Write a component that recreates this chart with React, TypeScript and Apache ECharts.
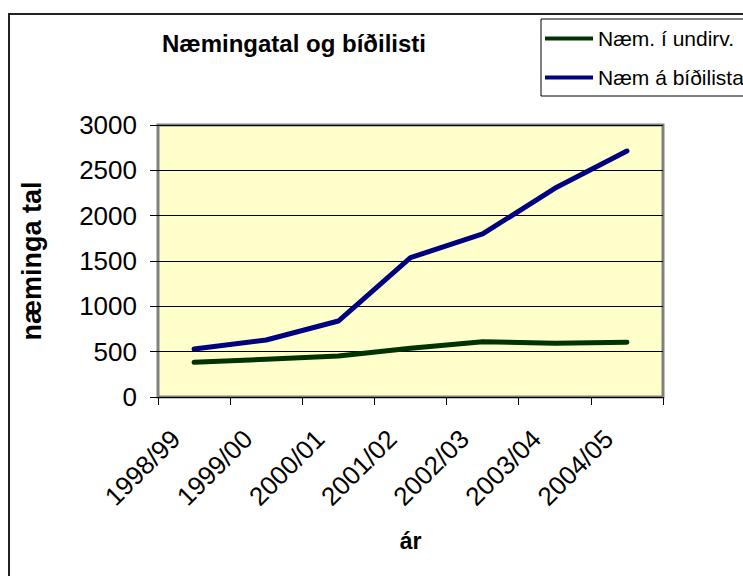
import React, { useEffect, useRef } from "react";
import * as echarts from "echarts";

const categories = ["1998/99", "1999/00", "2000/01", "2001/02", "2002/03", "2003/04", "2004/05"];
const enrolled = [383, 416, 452, 537, 610, 592, 603];
const waitlist = [529, 629, 838, 1537, 1798, 2302, 2713];
const yTicks = { min: 0, max: 3000, interval: 500 };

const FONT = "'Liberation Sans', Arial, sans-serif";

export default function App() {
  const ref = useRef<HTMLDivElement>(null);
  useEffect(() => {
    document.body.style.margin = "0";
    const chart = echarts.init(ref.current!, null, { renderer: "svg" });
    chart.setOption({
      animation: false,
      backgroundColor: "#ffffff",
      textStyle: { fontFamily: FONT, color: "#000" },
      title: {
        text: "Næmingatal og bíðilisti",
        left: 162,
        top: 31,
        padding: 0,
        textStyle: { fontFamily: FONT, fontSize: 24, fontWeight: "bold", color: "#000" },
      },
      legend: {
        orient: "vertical",
        left: 541,
        top: 19,
        padding: [9, 40, 8, 4],
        borderColor: "#000",
        borderWidth: 1,
        itemWidth: 48,
        itemHeight: 4,
        itemGap: 18,
        icon: "rect",
        textStyle: { fontFamily: FONT, fontSize: 21, color: "#000" },
        data: ["Næm. í undirv.", "Næm á bíðilista"],
      },
      graphic: [
        {
          type: "rect",
          z: -10,
          shape: { x: 9, y: 14, width: 1000, height: 1000 },
          style: { fill: "none", stroke: "#222", lineWidth: 2 },
        },
      ],
      grid: {
        show: true,
        left: 158,
        right: 80,
        top: 125,
        bottom: 179,
        backgroundColor: "#FFFFCC",
        borderColor: "#808080",
        borderWidth: 3,
        containLabel: false,
      },
      xAxis: {
        type: "category",
        data: categories,
        boundaryGap: true,
        name: "ár",
        nameLocation: "middle",
        nameGap: 132,
        nameTextStyle: { fontFamily: FONT, fontSize: 23, fontWeight: "bold", color: "#000" },
        axisLine: { show: false },
        axisTick: { show: true, length: 8, lineStyle: { color: "#000", width: 1 } },
        axisLabel: {
          rotate: 45,
          interval: 0,
          margin: 19,
          padding: [0, 26, 0, 0],
          fontFamily: FONT,
          fontSize: 26,
          color: "#000",
        },
        splitLine: { show: false },
      },
      yAxis: {
        type: "value",
        min: yTicks.min,
        max: yTicks.max,
        interval: yTicks.interval,
        name: "næminga tal",
        nameLocation: "middle",
        nameRotate: 90,
        nameGap: 113,
        nameTextStyle: { fontFamily: FONT, fontSize: 27, fontWeight: "bold", color: "#000" },
        axisLine: { show: false },
        axisTick: { show: true, length: 8, lineStyle: { color: "#000", width: 1 } },
        axisLabel: {
          margin: 21,
          fontFamily: FONT,
          fontSize: 26,
          color: "#000",
          formatter: (v: number) => String(v),
        },
        splitLine: { show: true, lineStyle: { color: "#000", width: 1 } },
      },
      series: [
        {
          name: "Næm. í undirv.",
          type: "line",
          data: enrolled,
          symbol: "none",
          color: "#003300",
          lineStyle: { color: "#003300", width: 5, cap: "round", join: "round" },
        },
        {
          name: "Næm á bíðilista",
          type: "line",
          data: waitlist,
          symbol: "none",
          color: "#000080",
          lineStyle: { color: "#000080", width: 5, cap: "round", join: "round" },
        },
      ],
    });
    return () => chart.dispose();
  }, []);
  return <div ref={ref} style={{ width: 743, height: 576 }} />;
}
